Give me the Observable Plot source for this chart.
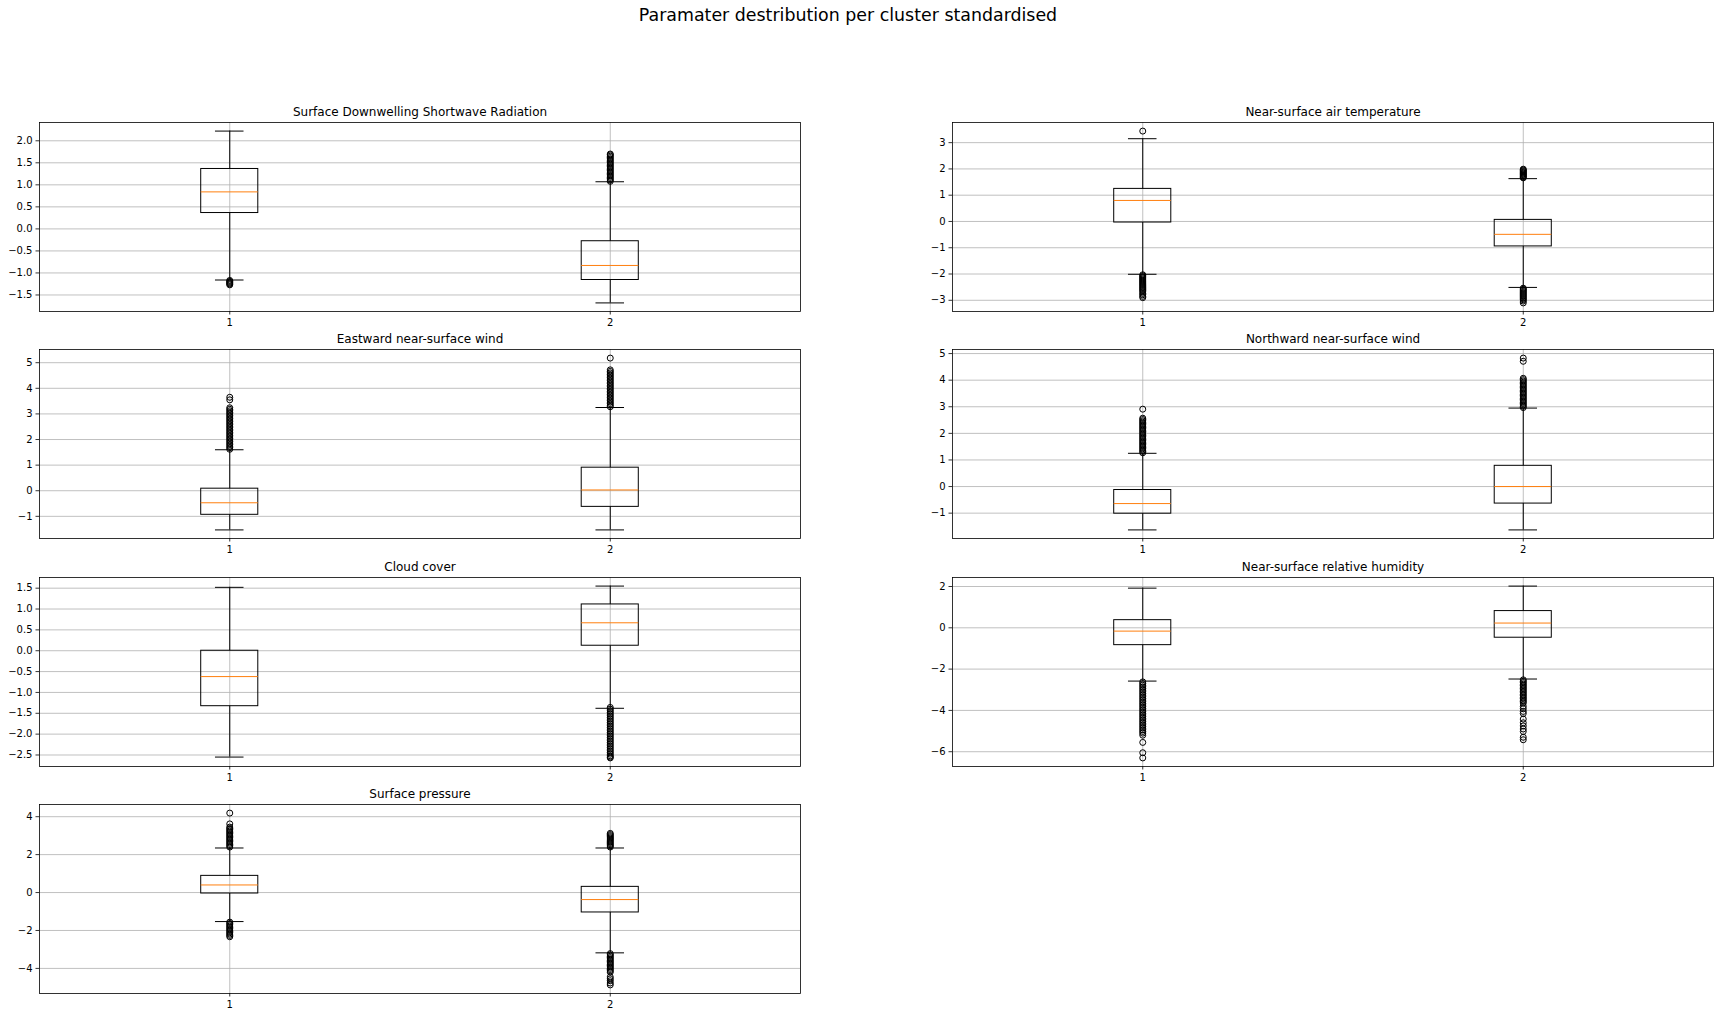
<!DOCTYPE html>
<html>
<head>
<meta charset="utf-8">
<script src="https://cdn.jsdelivr.net/npm/d3@7"></script>
<script src="https://cdn.jsdelivr.net/npm/@observablehq/plot@0.6"></script>
<style>
  html, body { margin: 0; padding: 0; background: white; }
  body { font-family: "DejaVu Sans", sans-serif; }
  #fig { position: relative; width: 1719px; height: 1016px; overflow: hidden; background: white; }
  #suptitle { position: absolute; top: 5px; left: 0; width: 1696px; text-align: center; font-size: 17.4px; color: black; }
  .panel { position: absolute; }
  .panel svg { overflow: visible; background: transparent; max-width: none !important; }
</style>
</head>
<body>
<div id="fig">
  <div id="suptitle">Paramater destribution per cluster standardised</div>
</div>
<script>
// ---------------- DATA ----------------
const figureTitle = "Paramater destribution per cluster standardised";
const panelTitles = [
  "Surface Downwelling Shortwave Radiation",
  "Near-surface air temperature",
  "Eastward near-surface wind",
  "Northward near-surface wind",
  "Cloud cover",
  "Near-surface relative humidity",
  "Surface pressure"
];
const clusters = [1, 2];

// per panel: [cluster1, cluster2]
const whiskerLow  = [[-1.16, -1.68], [-2.01, -2.51], [-1.53, -1.53], [-1.63, -1.63], [-2.55, -1.38], [-2.58, -2.48], [-1.53, -3.18]];
const quartile1   = [[ 0.36, -1.16], [-0.04, -0.95], [-0.94, -0.63], [-1.02, -0.64], [-1.33,  0.12], [-0.84, -0.48], [-0.05, -1.05]];
const medians     = [[ 0.84, -0.83], [ 0.80, -0.49], [-0.47,  0.03], [-0.64,  0.00], [-0.62,  0.67], [-0.16,  0.23], [ 0.40, -0.37]];
const quartile3   = [[ 1.36, -0.28], [ 1.24,  0.06], [ 0.08,  0.90], [-0.13,  0.78], [ 0.00,  1.11], [ 0.37,  0.81], [ 0.88,  0.30]];
const whiskerHigh = [[ 2.22,  1.07], [ 3.15,  1.63], [ 1.60,  3.25], [ 1.25,  2.95], [ 1.52,  1.55], [ 1.92,  2.02], [ 2.35,  2.35]];

const outliersCluster1 = [
  [-1.17,-1.19,-1.21,-1.23,-1.25,-1.27],
  [3.44,-2.03,-2.07,-2.11,-2.15,-2.19,-2.23,-2.27,-2.31,-2.35,-2.39,-2.43,-2.47,-2.51,-2.55,-2.59,-2.63,-2.68,-2.74,-2.79,-2.85,-2.9],
  [1.62,1.68,1.74,1.80,1.86,1.92,1.98,2.04,2.10,2.16,2.22,2.28,2.34,2.40,2.46,2.52,2.58,2.64,2.70,2.76,2.82,2.88,2.94,3.00,3.06,3.12,3.18,3.24,3.55,3.65],
  [1.27,1.32,1.37,1.42,1.47,1.52,1.57,1.62,1.67,1.72,1.77,1.82,1.87,1.92,1.97,2.02,2.07,2.12,2.17,2.22,2.27,2.32,2.37,2.42,2.47,2.52,2.57,2.91],
  [],
  [-2.62,-2.70,-2.78,-2.86,-2.94,-3.02,-3.10,-3.18,-3.26,-3.34,-3.42,-3.50,-3.58,-3.66,-3.74,-3.82,-3.90,-3.98,-4.06,-4.14,-4.22,-4.30,-4.38,-4.46,-4.54,-4.62,-4.70,-4.78,-4.86,-4.94,-5.02,-5.10,-5.20,-5.55,-6.05,-6.30],
  [4.19,3.62,3.45,3.38,3.31,3.24,3.17,3.10,3.03,2.96,2.89,2.82,2.75,2.68,2.61,2.54,2.47,2.40,-1.56,-1.63,-1.70,-1.77,-1.84,-1.91,-1.98,-2.05,-2.12,-2.19,-2.26,-2.33]
];
const outliersCluster2 = [
  [1.08,1.11,1.14,1.17,1.20,1.23,1.26,1.29,1.32,1.35,1.38,1.41,1.44,1.47,1.50,1.53,1.56,1.59,1.62,1.65,1.68,1.70],
  [1.66,1.69,1.72,1.75,1.78,1.81,1.84,1.87,1.90,1.93,1.96,1.99,-2.54,-2.58,-2.62,-2.66,-2.70,-2.74,-2.78,-2.82,-2.86,-2.90,-2.94,-2.98,-3.03,-3.10],
  [3.28,3.34,3.40,3.46,3.52,3.58,3.64,3.70,3.76,3.82,3.88,3.94,4.00,4.06,4.12,4.18,4.24,4.30,4.36,4.42,4.48,4.54,4.60,4.66,4.72,5.18],
  [2.97,3.02,3.07,3.12,3.17,3.22,3.27,3.32,3.37,3.42,3.47,3.52,3.57,3.62,3.67,3.72,3.77,3.82,3.87,3.92,3.97,4.02,4.07,4.71,4.83],
  [-1.36,-1.40,-1.44,-1.48,-1.52,-1.56,-1.60,-1.64,-1.68,-1.72,-1.76,-1.80,-1.84,-1.88,-1.92,-1.96,-2.00,-2.04,-2.08,-2.12,-2.16,-2.20,-2.24,-2.28,-2.32,-2.36,-2.40,-2.44,-2.48,-2.52,-2.55,-2.57],
  [-2.52,-2.59,-2.66,-2.73,-2.80,-2.87,-2.94,-3.01,-3.08,-3.15,-3.22,-3.29,-3.36,-3.43,-3.50,-3.57,-3.64,-3.80,-3.92,-4.05,-4.15,-4.42,-4.60,-4.75,-4.90,-5.02,-5.30,-5.42],
  [2.40,2.46,2.52,2.58,2.64,2.70,2.76,2.82,2.88,2.94,3.00,3.06,3.12,-3.22,-3.29,-3.36,-3.43,-3.50,-3.57,-3.64,-3.71,-3.78,-3.85,-3.92,-3.99,-4.06,-4.13,-4.20,-4.45,-4.55,-4.65,-4.77,-4.87]
];

const yTicks = [
  [-1.5,-1.0,-0.5,0.0,0.5,1.0,1.5,2.0],
  [-3,-2,-1,0,1,2,3],
  [-1,0,1,2,3,4,5],
  [-1,0,1,2,3,4,5],
  [-2.5,-2.0,-1.5,-1.0,-0.5,0.0,0.5,1.0,1.5],
  [-6,-4,-2,0,2],
  [-4,-2,0,2,4]
];
const yTickFormats = [".1f", "d", "d", "d", ".1f", "d", "d"];
const xTickLabels = ["1", "2"];

// ---------------- LAYOUT ----------------
const axesLeft = [39, 952];
const axesTop = [122, 349, 577, 804];
const axesW = 761, axesH = 189;
const mL = 45, mR = 10, mT = 30, mB = 30;
const boxHalf = 0.075, capHalf = 0.0375;

const fig = document.getElementById("fig");

panelTitles.forEach((title, p) => {
  const row = Math.floor(p / 2), col = p % 2;
  const boxes = clusters.map((c, i) => ({
    c, lo: whiskerLow[p][i], q1: quartile1[p][i], med: medians[p][i], q3: quartile3[p][i], hi: whiskerHigh[p][i]
  }));
  const fliers = [
    ...outliersCluster1[p].map(v => ({c: 1, v})),
    ...outliersCluster2[p].map(v => ({c: 2, v}))
  ];
  const allVals = [...boxes.flatMap(b => [b.lo, b.hi]), ...fliers.map(f => f.v)];
  const [mn, mx] = d3.extent(allVals);
  const pad = (mx - mn) * 0.05;
  const fmt = d3.format(yTickFormats[p]);
  const W = axesW + mL + mR, H = axesH + mT + mB;

  const chart = Plot.plot({
    width: W,
    height: H,
    marginLeft: mL, marginRight: mR, marginTop: mT, marginBottom: mB,
    x: {type: "linear", domain: [0.5, 2.5]},
    y: {type: "linear", domain: [mn - pad, mx + pad]},
    style: {fontFamily: "DejaVu Sans", fontSize: "10px", color: "black", background: "transparent", overflow: "visible", maxWidth: "none"},
    marks: [
      Plot.gridY(yTicks[p], {stroke: "#b0b0b0", strokeOpacity: 1, strokeWidth: 0.8}),
      Plot.gridX(clusters, {stroke: "#b0b0b0", strokeOpacity: 1, strokeWidth: 0.8}),
      Plot.axisY(yTicks[p], {tickSize: 3.5, tickPadding: 3.5, tickFormat: fmt, label: null, fontSize: 10, strokeWidth: 0.8}),
      Plot.axisX(clusters, {tickSize: 3.5, tickPadding: 3.5, tickFormat: (d, i) => xTickLabels[i], label: null, fontSize: 10, strokeWidth: 0.8}),
      Plot.ruleX(boxes, {x: "c", y1: "q3", y2: "hi", stroke: "black", strokeWidth: 1}),
      Plot.ruleX(boxes, {x: "c", y1: "lo", y2: "q1", stroke: "black", strokeWidth: 1}),
      Plot.ruleY(boxes, {y: "hi", x1: d => d.c - capHalf, x2: d => d.c + capHalf, stroke: "black", strokeWidth: 1}),
      Plot.ruleY(boxes, {y: "lo", x1: d => d.c - capHalf, x2: d => d.c + capHalf, stroke: "black", strokeWidth: 1}),
      Plot.rect(boxes, {x1: d => d.c - boxHalf, x2: d => d.c + boxHalf, y1: "q1", y2: "q3", fill: "none", stroke: "black", strokeWidth: 1}),
      Plot.ruleY(boxes, {y: "med", x1: d => d.c - boxHalf, x2: d => d.c + boxHalf, stroke: "#ff7f0e", strokeWidth: 1}),
      Plot.dot(fliers, {x: "c", y: "v", r: 3, stroke: "black", fill: "none", strokeWidth: 1}),
      Plot.frame({stroke: "black", strokeWidth: 0.8}),
      Plot.text([title], {frameAnchor: "top", dy: -7, lineAnchor: "bottom", text: d => d, fontSize: 12, fill: "black"})
    ]
  });
  const div = document.createElement("div");
  div.className = "panel";
  div.style.left = (axesLeft[col] - mL) + "px";
  div.style.top = (axesTop[row] - mT) + "px";
  div.style.width = W + "px";
  div.style.height = H + "px";
  div.appendChild(chart);
  fig.appendChild(div);
});
</script>
</body>
</html>
